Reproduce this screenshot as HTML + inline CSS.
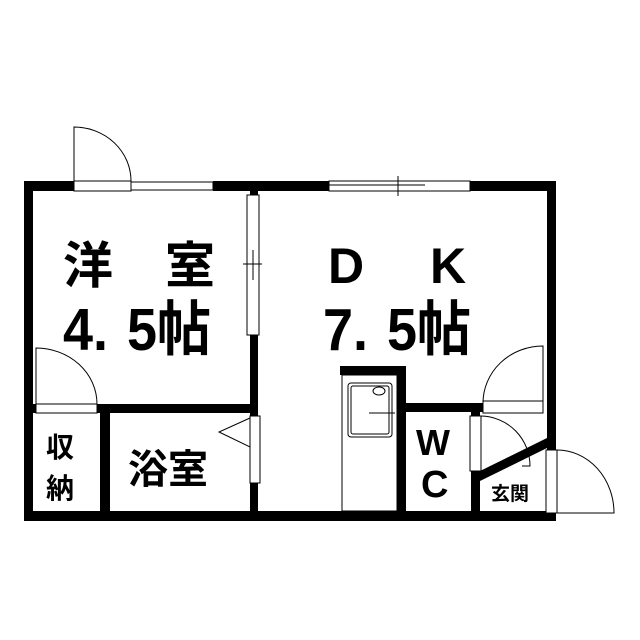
<!DOCTYPE html>
<html><head><meta charset="utf-8"><style>html,body{margin:0;padding:0;background:#fff}svg{display:block}</style></head><body>
<svg width="640" height="640" viewBox="0 0 640 640" xmlns="http://www.w3.org/2000/svg">
<rect width="640" height="640" fill="#fff"/>
<g fill="#000">
<rect x="24" y="181" width="9" height="339"/>
<rect x="24" y="181" width="50" height="10"/>
<rect x="213" y="181" width="343" height="10"/>
<rect x="547" y="181" width="9" height="269"/>
<rect x="24" y="511" width="532" height="10"/>
<rect x="250" y="191" width="8" height="320"/>
<rect x="33" y="404" width="225" height="9"/>
<rect x="100" y="404" width="10" height="107"/>
<rect x="340" y="366" width="66" height="9"/>
<rect x="397" y="366" width="9" height="145"/>
<rect x="397" y="403" width="86" height="9"/>
<rect x="471" y="403" width="9" height="108"/>
</g>
<polygon points="478,472 547,438 547,448 480,481" fill="#000"/>
<g fill="#fff" stroke="#000" stroke-width="1">
<rect x="74" y="181" width="57" height="10"/>
<rect x="131" y="182" width="82" height="8"/>
<rect x="329" y="181" width="141" height="10"/>
<rect x="247" y="195" width="12" height="140"/>
<rect x="36" y="404" width="61" height="9"/>
<rect x="250" y="416" width="10" height="67"/>
<rect x="483" y="401" width="60" height="12"/>
<rect x="470" y="416" width="11" height="55"/>
<rect x="546" y="450" width="11" height="63"/>
<rect x="342" y="375" width="55" height="136"/>
<rect x="348" y="383" width="44" height="54" rx="3"/>
<rect x="351" y="386" width="38" height="48" rx="2"/>
<ellipse cx="379" cy="391" rx="6" ry="4"/>
</g>
<g fill="none" stroke="#000" stroke-width="1">
<line x1="300" y1="185" x2="425" y2="185"/>
<line x1="398" y1="176" x2="398" y2="196"/>
<line x1="243" y1="264" x2="262" y2="264"/>
<line x1="253" y1="250" x2="253" y2="280"/>
<line x1="369" y1="413" x2="395" y2="413"/>
<path d="M74,181 L74,127 A57,54 0 0 1 131,181"/>
<path d="M36,404 L36,348 A61,56 0 0 1 97,404"/>
<path d="M543,403 L543,346 A60,57 0 0 0 483,403"/>
<path d="M481,416 A50,50 0 0 1 530,466 L522,466"/>
<path d="M557,450 A57,63 0 0 1 614,513 L557,513"/>
<polygon points="250,418 219,432 250,447" fill="#fff"/>
</g>
<g font-family="'Liberation Sans','Noto Sans CJK JP',sans-serif" fill="#000" font-weight="bold">
<text x="63" y="283" font-size="50">洋</text>
<text x="165" y="283" font-size="50">室</text>
<text x="63" y="350" font-size="54" transform="translate(0,-35) scale(1,1.1)">4.</text>
<text x="127" y="350" font-size="54" transform="translate(0,-35) scale(1,1.1)">5帖</text>
<text x="328" y="283" font-size="50">D</text>
<text x="430" y="283" font-size="50">K</text>
<text x="323" y="350" font-size="54" transform="translate(0,-35) scale(1,1.1)">7.</text>
<text x="387" y="350" font-size="54" transform="translate(0,-35) scale(1,1.1)">5帖</text>
<text x="46" y="457" font-size="28">収</text>
<text x="46" y="498" font-size="28">納</text>
<text x="128" y="483" font-size="40">浴室</text>
<text x="416" y="455" font-size="36">W</text>
<text x="421" y="497" font-size="38">C</text>
<text x="491" y="500" font-size="19">玄関</text>
</g>
</svg>
</body></html>
